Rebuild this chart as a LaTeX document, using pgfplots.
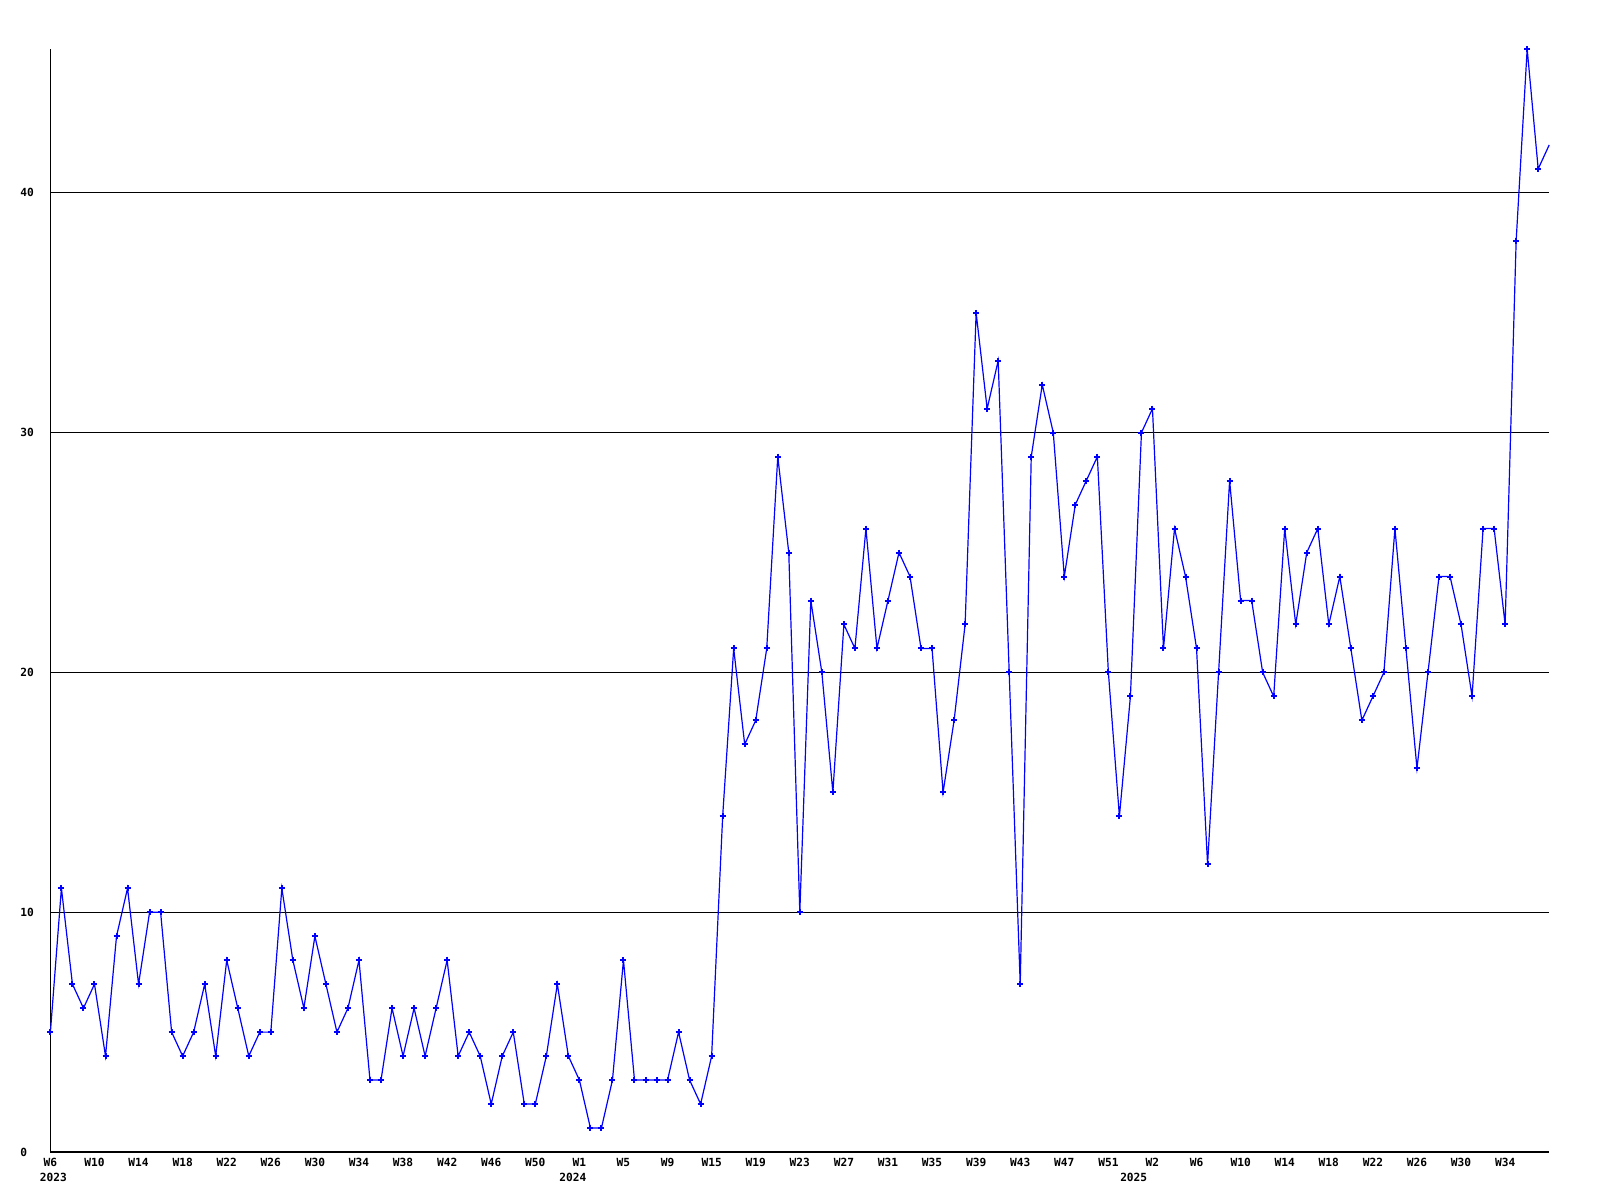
\documentclass[border=0pt]{standalone}
\usepackage{pgfplots}
\pgfplotsset{compat=1.18}
\usepackage{fontspec}
\newfontfamily\labelfont{DejaVu Sans Mono}
\pgfplotstableread{
x y
0 5
1 11
2 7
3 6
4 7
5 4
6 9
7 11
8 7
9 10
10 10
11 5
12 4
13 5
14 7
15 4
16 8
17 6
18 4
19 5
20 5
21 11
22 8
23 6
24 9
25 7
26 5
27 6
28 8
29 3
30 3
31 6
32 4
33 6
34 4
35 6
36 8
37 4
38 5
39 4
40 2
41 4
42 5
43 2
44 2
45 4
46 7
47 4
48 3
49 1
50 1
51 3
52 8
53 3
54 3
55 3
56 3
57 5
58 3
59 2
60 4
61 14
62 21
63 17
64 18
65 21
66 29
67 25
68 10
69 23
70 20
71 15
72 22
73 21
74 26
75 21
76 23
77 25
78 24
79 21
80 21
81 15
82 18
83 22
84 35
85 31
86 33
87 20
88 7
89 29
90 32
91 30
92 24
93 27
94 28
95 29
96 20
97 14
98 19
99 30
100 31
101 21
102 26
103 24
104 21
105 12
106 20
107 28
108 23
109 23
110 20
111 19
112 26
113 22
114 25
115 26
116 22
117 24
118 21
119 18
120 19
121 20
122 26
123 21
124 16
125 20
126 24
127 24
128 22
129 19
130 26
131 26
132 22
133 38
134 46
135 41
}\maindata
\pgfplotstableread{
x y
135 41
136 42
}\lastdata
\begin{document}
\begin{tikzpicture}
\path[use as bounding box] (0pt,0pt) rectangle (800pt,600pt);
\begin{axis}[
  at={(25.2pt,24pt)}, anchor=south west,
  scale only axis, width=749.4pt, height=551.5pt,
  xmin=0, xmax=136, ymin=0, ymax=46,
  axis lines=left,
  axis line style={-, black, line width=0.6pt},
  clip=false,
  ymajorgrids, grid style={black, line width=0.5pt},
  ytick={0,10,20,30,40},
  xtick={0,4,...,132},
  xticklabels={W6,W10,W14,W18,W22,W26,W30,W34,W38,W42,W46,W50,W1,W5,W9,W15,W19,W23,W27,W31,W35,W39,W43,W47,W51,W2,W6,W10,W14,W18,W22,W26,W30,W34},
  extra x ticks={0.28,47.4,98.3},
  extra x tick labels={2023,2024,2025},
  extra x tick style={xticklabel style={yshift=-7.6pt}},
  major tick length=0pt,
  /pgf/number format/assume math mode=true,
  ticklabel style={font=\labelfont\bfseries\fontsize{5.6}{7.6}\selectfont, inner sep=0pt},
  xticklabel style={anchor=north, yshift=-3pt},
  yticklabel style={anchor=west, xshift=-15.2pt},
]
\addplot[color={rgb,255:red,0;green,0;blue,255}, line width=0.6pt, mark=+, mark size=1.5pt, mark options={line width=1pt}] table[x=x,y=y] {\maindata};
\addplot[color={rgb,255:red,0;green,0;blue,255}, line width=0.6pt, mark=none] table[x=x,y=y] {\lastdata};
\end{axis}
\end{tikzpicture}
\end{document}
